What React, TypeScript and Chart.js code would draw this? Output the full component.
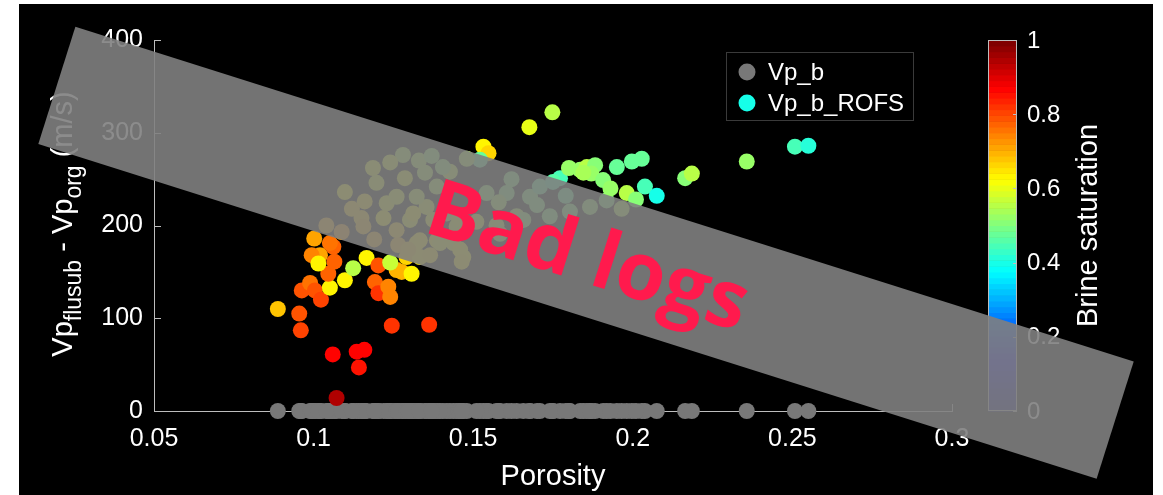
import React, { useEffect, useRef } from "react";
import { Chart, registerables } from "chart.js";

Chart.register(...registerables);

// ---------------- data ----------------
const porosity = [
  0.0888, 0.0955, 0.0960, 0.1060, 0.1135, 0.1159, 0.1142, 0.1072, 0.1245, 0.1362,
  0.0963, 0.0989, 0.1004, 0.1023, 0.1051, 0.1046, 0.1065, 0.1020, 0.1098, 0.1124,
  0.1166, 0.1192, 0.1203, 0.1203, 0.1234, 0.1240, 0.1260, 0.1002, 0.0994, 0.1062,
  0.1015, 0.1276, 0.1307, 0.1240, 0.1532, 0.1548, 0.1676, 0.1748, 0.1835, 0.1856,
  0.1882, 0.1870, 0.1950, 0.1997, 0.2028, 0.2038, 0.2075, 0.1981, 0.2164, 0.2185,
  0.1772, 0.2357, 0.2508, 0.2550, 0.1800, 0.1845, 0.1051, 0.1280, 0.1240, 0.1186,
  0.1098, 0.1197, 0.1286, 0.1349, 0.1427, 0.1160, 0.1229, 0.1260, 0.1150, 0.1040,
  0.1088, 0.1156, 0.1219, 0.1260, 0.1302, 0.1354, 0.1386, 0.1323, 0.1417, 0.1448,
  0.1386, 0.1323, 0.1265, 0.1291, 0.1333, 0.1438, 0.1469, 0.1521, 0.1405, 0.1480,
  0.1542, 0.1605, 0.1678, 0.1709, 0.1750, 0.1803, 0.1866, 0.1918, 0.1965, 0.1636,
  0.1573, 0.1510, 0.1455, 0.1375, 0.1312, 0.1333, 0.1396, 0.1459, 0.1297, 0.1365,
  0.1464, 0.1584, 0.1657, 0.1740, 0.1907, 0.1120, 0.1190, 0.1580, 0.1620, 0.1700,
  0.1790, 0.1930, 0.2010, 0.1330, 0.1370,
];

const vpB = [
  0, 0, 0, 0, 0, 0, 0, 0, 0, 0,
  0, 0, 0, 0, 0, 0, 0, 0, 0, 0,
  0, 0, 0, 0, 0, 0, 0, 0, 0, 0,
  0, 0, 0, 0, 0, 0, 0, 0, 0, 0,
  0, 0, 0, 0, 0, 0, 0, 0, 0, 0,
  0, 0, 0, 0, 0, 0, 0, 0, 0, 0,
  0, 0, 0, 0, 0, 0, 0, 0, 0, 0,
  0, 0, 0, 0, 0, 0, 0, 0, 0, 0,
  0, 0, 0, 0, 0, 0, 0, 0, 0, 0,
  0, 0, 0, 0, 0, 0, 0, 0, 0, 0,
  0, 0, 0, 0, 0, 0, 0, 0, 0, 0,
  0, 0, 0, 0, 0, 0, 0, 0, 0, 0,
  0, 0, 0, 0, 0,
];

const vpRofs = [
  110, 105, 87, 61, 64, 66, 47, 14, 92, 93,
  130, 138, 130, 120, 133, 148, 161, 168, 141, 154,
  165, 139, 157, 127, 134, 123, 152, 186, 168, 177,
  159, 150, 148, 160, 285, 278, 306, 322, 260, 263,
  265, 256, 263, 269, 272, 242, 232, 235, 251, 256,
  251, 269, 285, 286, 262, 257, 181, 276, 268, 262,
  236, 246, 251, 257, 258, 226, 224, 231, 208, 200,
  193, 199, 208, 195, 206, 220, 242, 231, 213, 199,
  184, 181, 179, 166, 166, 181, 166, 271, 263, 272,
  235, 235, 231, 242, 247, 215, 220, 227, 218, 210,
  200, 204, 208, 206, 213, 184, 181, 174, 174, 168,
  161, 191, 206, 210, 249, 218, 185, 225, 250, 222,
  232, 240, 228, 270, 275,
];

const brineSat = [
  0.68, 0.80, 0.81, 0.87, 0.87, 0.87, 0.86, 0.95, 0.82, 0.82,
  0.79, 0.76, 0.80, 0.81, 0.64, 0.77, 0.78, 0.72, 0.63, 0.55,
  0.63, 0.78, 0.80, 0.83, 0.74, 0.75, 0.70, 0.72, 0.74, 0.78,
  0.64, 0.70, 0.64, 0.57, 0.63, 0.66, 0.60, 0.55, 0.53, 0.55,
  0.50, 0.53, 0.48, 0.47, 0.47, 0.44, 0.40, 0.56, 0.50, 0.55,
  0.45, 0.52, 0.44, 0.42, 0.52, 0.54, 0.76, 0.55, 0.58, 0.60,
  0.62, 0.58, 0.60, 0.55, 0.57, 0.65, 0.60, 0.58, 0.66, 0.70,
  0.72, 0.68, 0.62, 0.66, 0.60, 0.58, 0.55, 0.57, 0.55, 0.58,
  0.62, 0.64, 0.68, 0.66, 0.63, 0.60, 0.62, 0.48, 0.52, 0.55,
  0.52, 0.50, 0.50, 0.47, 0.46, 0.50, 0.52, 0.50, 0.55, 0.55,
  0.57, 0.58, 0.60, 0.60, 0.62, 0.64, 0.60, 0.62, 0.66, 0.65,
  0.63, 0.55, 0.52, 0.50, 0.50, 0.66, 0.70, 0.54, 0.50, 0.50,
  0.48, 0.52, 0.50, 0.55, 0.52,
];

const xTicks = [0.05, 0.1, 0.15, 0.2, 0.25, 0.3];
const xTickLabels = ["0.05", "0.1", "0.15", "0.2", "0.25", "0.3"];
const yTicks = [0, 100, 200, 300, 400];
const yTickLabels = ["0", "100", "200", "300", "400"];
const cbTicks = [0, 0.2, 0.4, 0.6, 0.8, 1];
const cbTickLabels = ["0", "0.2", "0.4", "0.6", "0.8", "1"];
const legendLabels = ["Vp_b", "Vp_b_ROFS"];
const xTitle = "Porosity";
const cbTitle = "Brine saturation";
const bannerText = "Bad logs";

// ---------------- styling helpers ----------------
const FONT = "'Liberation Sans', Arial, Helvetica, sans-serif";
const AXIS = "#bdbdbd";
const GREY = "#787878";

function jetIndex(i: number): string {
  const q = i / 63;
  const c = (t: number) => Math.max(0, Math.min(1, t));
  const r = c(Math.min(4 * q - 1.5, -4 * q + 4.5));
  const g = c(Math.min(4 * q - 0.5, -4 * q + 3.5));
  const b = c(Math.min(4 * q + 0.5, -4 * q + 2.5));
  return `rgb(${Math.round(r * 255)},${Math.round(g * 255)},${Math.round(b * 255)})`;
}
function jet(v: number): string {
  return jetIndex(Math.min(63, Math.max(0, Math.round(v * 63))));
}

const decor = {
  id: "decor",
  beforeDatasetsDraw(chart: any) {
    const { ctx, chartArea: ca, scales } = chart;
    ctx.save();
    ctx.strokeStyle = AXIS;
    ctx.lineWidth = 1;
    ctx.beginPath();
    xTicks.forEach((v) => {
      const px = Math.round(scales.x.getPixelForValue(v)) + 0.5;
      ctx.moveTo(px, ca.bottom);
      ctx.lineTo(px, ca.bottom - 7);
    });
    yTicks.forEach((v) => {
      const py = Math.round(scales.y.getPixelForValue(v)) + 0.5;
      ctx.moveTo(ca.left, py);
      ctx.lineTo(ca.left + 7, py);
    });
    ctx.stroke();
    ctx.restore();
  },
  afterDraw(chart: any) {
    const { ctx, chartArea: ca } = chart;

    // ---- colorbar ----
    const cbL = 969, cbR = 998, cbT = ca.top, cbB = ca.bottom;
    const h = cbB - cbT;
    ctx.save();
    for (let i = 0; i < 64; i++) {
      const y1 = cbB - (i / 64) * h;
      const y0 = cbB - ((i + 1) / 64) * h;
      ctx.fillStyle = jetIndex(i);
      ctx.fillRect(cbL, y0, cbR - cbL, y1 - y0 + 0.6);
    }
    ctx.strokeStyle = AXIS;
    ctx.lineWidth = 1;
    ctx.strokeRect(cbL + 0.5, cbT + 0.5, cbR - cbL - 1, h - 1);
    ctx.beginPath();
    cbTicks.forEach((v) => {
      const py = Math.round(cbB - v * h) + 0.5;
      ctx.moveTo(cbR, py);
      ctx.lineTo(cbR - 4, py);
    });
    ctx.stroke();
    ctx.fillStyle = "#ffffff";
    ctx.font = `24px ${FONT}`;
    ctx.textAlign = "left";
    ctx.textBaseline = "middle";
    cbTicks.forEach((v, i) => {
      ctx.fillText(cbTickLabels[i], 1008, cbB - v * h + 1);
    });
    // colorbar title
    ctx.save();
    ctx.translate(1078, 221.5);
    ctx.rotate(-Math.PI / 2);
    ctx.font = `29px ${FONT}`;
    ctx.textAlign = "center";
    ctx.textBaseline = "alphabetic";
    ctx.fillText(cbTitle, 0, 0);
    ctx.restore();

    // ---- legend ----
    ctx.fillStyle = "#000000";
    ctx.fillRect(707, 48, 187, 68);
    ctx.strokeStyle = "#3a3a3a";
    ctx.strokeRect(707.5, 48.5, 187, 68);
    const legendColors = [GREY, jet(0.4)];
    legendLabels.forEach((lab, i) => {
      const cy = 68 + i * 31;
      ctx.fillStyle = legendColors[i];
      ctx.beginPath();
      ctx.arc(728, cy, 8.5, 0, Math.PI * 2);
      ctx.fill();
      ctx.fillStyle = "#ffffff";
      ctx.font = `24px ${FONT}`;
      ctx.textAlign = "left";
      ctx.textBaseline = "middle";
      ctx.fillText(lab, 749, cy + 1);
    });

    // ---- y axis title with subscripts ----
    const segs: [string, boolean][] = [
      ["Vp", false],
      ["flusub", true],
      [" - Vp", false],
      ["org", true],
      [" (m/s)", false],
    ];
    const mainF = `29px ${FONT}`;
    const subF = `23px ${FONT}`;
    let total = 0;
    segs.forEach(([t, sub]) => {
      ctx.font = sub ? subF : mainF;
      total += ctx.measureText(t).width;
    });
    ctx.save();
    ctx.translate(53, 220);
    ctx.rotate(-Math.PI / 2);
    ctx.fillStyle = "#ffffff";
    ctx.textAlign = "left";
    ctx.textBaseline = "alphabetic";
    let x = -total / 2;
    segs.forEach(([t, sub]) => {
      ctx.font = sub ? subF : mainF;
      ctx.fillText(t, x, sub ? 9 : 0);
      x += ctx.measureText(t).width;
    });
    ctx.restore();

    // ---- banner ----
    ctx.save();
    ctx.translate(567, 248.75);
    ctx.rotate((17.55 * Math.PI) / 180);
    ctx.fillStyle = "rgba(128,128,128,0.9)";
    ctx.fillRect(-555, -61.5, 1110, 123);
    ctx.fillStyle = "#ff1a4d";
    ctx.font = `bold 80px 'Open Sans', Lato, sans-serif`;
    ctx.textAlign = "center";
    ctx.textBaseline = "alphabetic";
    ctx.fillText(bannerText, 3, 29);
    ctx.restore();

    ctx.restore();
  },
};

export default function App() {
  const ref = useRef<HTMLCanvasElement | null>(null);

  useEffect(() => {
    if (!ref.current) return;
    const rofsData = porosity.map((x, i) => ({ x, y: vpRofs[i] }));
    const bData = porosity.map((x, i) => ({ x, y: vpB[i] }));
    const chart = new Chart(ref.current, {
      type: "scatter",
      data: {
        datasets: [
          {
            label: legendLabels[1],
            data: rofsData,
            backgroundColor: brineSat.map(jet),
            borderWidth: 0,
            pointRadius: 8,
            pointHoverRadius: 8,
            clip: false as any,
            order: 0,
          },
          {
            label: legendLabels[0],
            data: bData,
            backgroundColor: GREY,
            borderWidth: 0,
            pointRadius: 8,
            pointHoverRadius: 8,
            clip: false as any,
            order: 1,
          },
        ],
      },
      options: {
        animation: false,
        responsive: false,
        devicePixelRatio: 1,
        events: [],
        layout: { padding: { top: 36, right: 201, left: 0, bottom: 0 } },
        plugins: {
          legend: { display: false },
          tooltip: { enabled: false },
        },
        scales: {
          x: {
            type: "linear",
            min: 0.05,
            max: 0.3,
            afterBuildTicks: (s: any) => {
              s.ticks = xTicks.map((v) => ({ value: v }));
            },
            afterFit: (s: any) => {
              s.height = 84;
            },
            ticks: {
              color: "#ffffff",
              font: { family: FONT, size: 25 },
              padding: 13,
              maxRotation: 0,
              autoSkip: false,
              callback: (_v: any, i: number) => xTickLabels[i],
            },
            grid: { display: false, drawTicks: false },
            border: { display: true, color: AXIS, width: 1 },
            title: {
              display: true,
              text: xTitle,
              color: "#ffffff",
              font: { family: FONT, size: 29 },
              padding: { top: 0, bottom: 1 },
            },
          },
          y: {
            type: "linear",
            min: 0,
            max: 400,
            afterBuildTicks: (s: any) => {
              s.ticks = yTicks.map((v) => ({ value: v }));
            },
            afterFit: (s: any) => {
              s.width = 135;
            },
            ticks: {
              color: "#ffffff",
              font: { family: FONT, size: 25 },
              padding: 11,
              autoSkip: false,
              callback: (_v: any, i: number) => yTickLabels[i],
            },
            grid: { display: false, drawTicks: false },
            border: { display: true, color: AXIS, width: 1 },
          },
        },
      } as any,
      plugins: [decor],
    });
    return () => chart.destroy();
  }, []);

  return (
    <div
      style={{
        position: "absolute",
        left: 19,
        top: 4,
        width: 1134,
        height: 491,
        background: "#000",
      }}
    >
      <canvas ref={ref} width={1134} height={491} style={{ display: "block" }} />
    </div>
  );
}
